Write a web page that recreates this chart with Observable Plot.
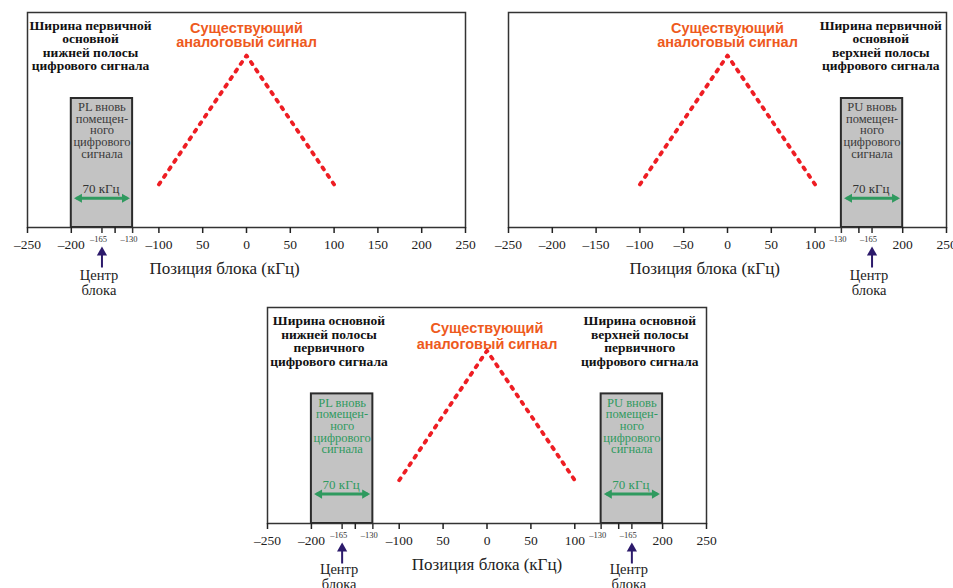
<!DOCTYPE html>
<html><head><meta charset="utf-8">
<script src="https://cdn.jsdelivr.net/npm/d3@7"></script>
<script src="https://cdn.jsdelivr.net/npm/@observablehq/plot@0.6"></script>
<style>
body{margin:0;background:#fff;}
#c{position:relative;width:953px;height:588px;overflow:hidden;background:#fff;}
#c svg{position:absolute;overflow:visible;}
</style></head>
<body><div id="c"></div>
<script>
// ---- data ----
const tickValues = [-250, -200, -150, -100, -50, 0, 50, 100, 150, 200, 250];
const tickLabelsTopLeft  = ["–250","–200","","–100","50","0","50","100","150","200","250"];
const tickLabelsTopRight = ["–250","–200","–150","–100","–50","0","50","100","","200","250"];
const tickLabelsBottom   = ["–250","–200","","–100","50","0","50","100","","200","250"];
const signalX = [-100, 0, 100];
const signalY = [20, 80, 20];
const lowerBlock = [-200, -130];
const upperBlock = [130, 200];
const blockTop = 60;
const lowerCenter = -165;
const upperCenter = 165;
const lowerMiniTicks = [-165, -130];
const lowerMiniLabels = ["–165", "–130"];
const upperMiniTicks = [130, 165];
const upperMiniLabels = ["–130", "–165"];
const signalTitle = "Существующий\nаналоговый сигнал";
const headLowerTop = "Ширина первичной\nосновной\nнижней полосы\nцифрового сигнала";
const headUpperTop = "Ширина первичной\nосновной\nверхней полосы\nцифрового сигнала";
const headLowerBottom = "Ширина основной\nнижней полосы\nпервичного\nцифрового сигнала";
const headUpperBottom = "Ширина основной\nверхней полосы\nпервичного\nцифрового сигнала";
const blockTextPL = "PL вновь\nпомещен-\nного\nцифрового\nсигнала";
const blockTextPU = "PU вновь\nпомещен-\nного\nцифрового\nсигнала";
const bandwidthLabel = "70 кГц";
const centerLabel = "Центр\nблока";
const axisTitle = "Позиция блока (кГц)";

// ---- styles ----
const RED = "#ee1d23", ORANGE = "#ee5a1d", GREEN = "#2f9a5f", PURPLE = "#2c1a6b";
const SERIF = "'Liberation Serif', 'DejaVu Serif', serif", SANS = "'Liberation Sans', Arial, sans-serif";

const lowerBlockObj = {x1: lowerBlock[0], x2: lowerBlock[1], center: lowerCenter, text: blockTextPL, mini: lowerMiniTicks, miniLabels: lowerMiniLabels};
const upperBlockObj = {x1: upperBlock[0], x2: upperBlock[1], center: upperCenter, text: blockTextPU, mini: upperMiniTicks, miniLabels: upperMiniLabels};

function makePanel(cfg) {
  const signal = signalX.map((x, i) => ({x, y: signalY[i]}));
  const labelMap = new Map(tickValues.map((v, i) => [v, cfg.tickLabels[i]]));
  const px = cfg.pxPerUnit;
  const below = p => -p / px;
  const marks = [];
  for (const b of cfg.blocks) {
    marks.push(Plot.rect([b], {x1: "x1", x2: "x2", y1: 0, y2: blockTop, fill: "#c3c3c3", stroke: "#2b2b2b", strokeWidth: 2}));
  }
  marks.push(Plot.frame({stroke: "#333", strokeWidth: 1.5}));
  marks.push(Plot.axisX({ticks: tickValues, tickFormat: d => labelMap.get(d), tickSize: 6, tickPadding: 6,
    fontSize: 13.5, fontFamily: SERIF, color: "#222", strokeWidth: 1.5, label: null}));
  marks.push(Plot.line(signal, {x: "x", y: "y", stroke: RED, strokeWidth: 3.8, strokeDasharray: "2.5 6.6", strokeLinecap: "round"}));
  marks.push(Plot.text([signalTitle], {x: 0, y: cfg.signalTitleY, text: d => d, fill: ORANGE, fontFamily: SANS, fontWeight: "bold", fontSize: 14.5, lineHeight: cfg.signalLH}));
  for (const h of cfg.headings) {
    marks.push(Plot.text([h.text], {x: h.x, y: 84.5, text: d => d, fill: "#111", fontFamily: SERIF, fontWeight: "bold", fontSize: 13.5, lineHeight: 1.0, ariaLabel: "heading"}));
  }
  for (const b of cfg.blocks) {
    marks.push(Plot.ruleX(b.mini, {x: d => d, y1: 0, y2: below(6), stroke: "#333", strokeWidth: 1.5}));
    marks.push(Plot.text([b.text], {x: b.center, y: 45, text: d => d, fill: cfg.blockTextColor, fontFamily: SERIF, fontSize: 12.5, lineHeight: 0.93}));
    marks.push(Plot.text([bandwidthLabel], {x: b.center, y: 17.8, dx: -1, text: d => d, fill: cfg.bwColor, fontFamily: SERIF, fontSize: 13}));
    marks.push(Plot.link([b], {x1: d => d.x1 + 6, x2: d => d.x2 - 6, y1: 13.6, y2: 13.6, stroke: GREEN, strokeWidth: 3}));
    marks.push(Plot.dot([b], {x: "x1", y: 13.6, dx: 8, symbol: "triangle", r: 3.4, rotate: -90, fill: GREEN, stroke: "none"}));
    marks.push(Plot.dot([b], {x: "x2", y: 13.6, dx: -8, symbol: "triangle", r: 3.4, rotate: 90, fill: GREEN, stroke: "none"}));
    marks.push(Plot.text(b.mini, {x: d => d, y: below(12), dx: -3.5, text: (d, i) => b.miniLabels[i], fill: "#333", fontFamily: SERIF, fontSize: 8.5}));
    marks.push(Plot.link([b], {x1: "center", x2: "center", y1: below(40), y2: below(25), stroke: PURPLE, strokeWidth: 2}));
    marks.push(Plot.dot([b], {x: "center", y: below(25), symbol: "triangle", r: 3.8, fill: PURPLE, stroke: "none"}));
    marks.push(Plot.text([centerLabel], {x: b.center, y: below(cfg.centerOffset), dx: -3, text: d => d, fill: "#222", fontFamily: SERIF, fontSize: 14.5, lineHeight: 1.05}));
  }
  marks.push(Plot.text([axisTitle], {x: cfg.titleX, y: below(41), text: d => d, fill: "#222", fontFamily: SERIF, fontSize: 17}));

  const svg = Plot.plot({
    width: cfg.width, height: cfg.height,
    marginLeft: cfg.ml, marginRight: cfg.mr, marginTop: cfg.mt, marginBottom: cfg.mb,
    x: {domain: [-250, 250]},
    y: {domain: [0, 100], axis: null},
    style: {fontFamily: SERIF, background: "transparent", overflow: "visible"},
    marks
  });
  d3.select(svg).selectAll('g[aria-label="heading"] text').style("letter-spacing", "0.5px");
  svg.style.left = cfg.left + "px";
  svg.style.top = cfg.top + "px";
  return svg;
}

const c = document.getElementById("c");
c.appendChild(makePanel({
  left: 0, top: 0, width: 480, height: 300, ml: 27, mr: 15, mt: 12, mb: 73, pxPerUnit: 2.15,
  tickLabels: tickLabelsTopLeft, blocks: [lowerBlockObj],
  headings: [{text: headLowerTop, x: -178}], blockTextColor: "#3a3a3a", bwColor: "#333",
  signalTitleY: 89.3, signalLH: 0.97, titleX: -25, centerOffset: 55
}));
c.appendChild(makePanel({
  left: 480, top: 0, width: 473, height: 300, ml: 28, mr: 7, mt: 12, mb: 73, pxPerUnit: 2.15,
  tickLabels: tickLabelsTopRight, blocks: [upperBlockObj],
  headings: [{text: headUpperTop, x: 175}], blockTextColor: "#3a3a3a", bwColor: "#333",
  signalTitleY: 89.3, signalLH: 0.97, titleX: -26, centerOffset: 55
}));
c.appendChild(makePanel({
  left: 240, top: 300, width: 480, height: 288, ml: 27, mr: 14, mt: 7, mb: 65, pxPerUnit: 2.16,
  tickLabels: tickLabelsBottom, blocks: [lowerBlockObj, upperBlockObj],
  headings: [{text: headLowerBottom, x: -180}, {text: headUpperBottom, x: 174}], blockTextColor: GREEN, bwColor: GREEN,
  signalTitleY: 86.8, signalLH: 1.1, titleX: 0, centerOffset: 53
}));
</script>
</body></html>
